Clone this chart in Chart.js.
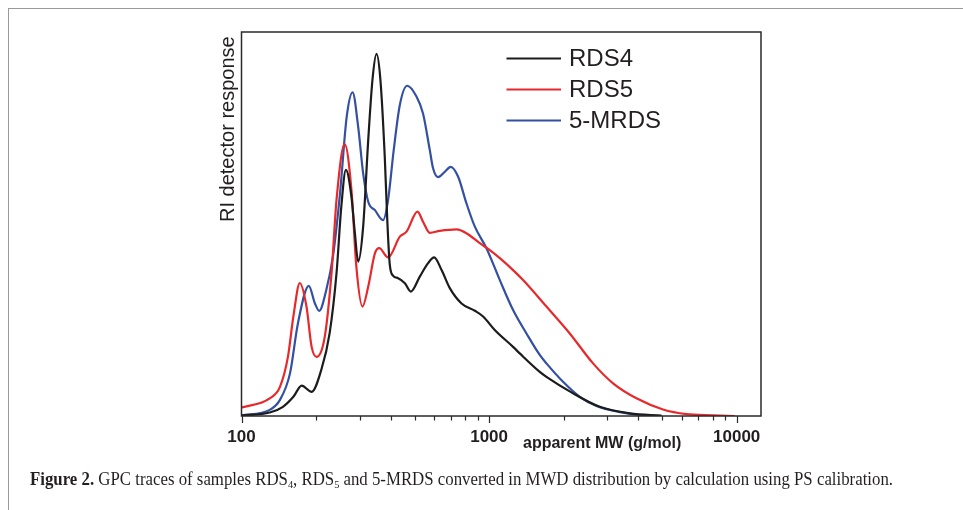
<!DOCTYPE html>
<html>
<head>
<meta charset="utf-8">
<script src="https://cdn.jsdelivr.net/npm/chart.js@4/dist/chart.umd.min.js"></script>
<style>
  html, body { margin: 0; padding: 0; background: #fff; }
  #wrap { position: relative; width: 963px; height: 510px; overflow: hidden; }
  #frame { position: absolute; left: 8px; top: 8px; width: 1000px; height: 600px;
           border-top: 1.5px solid #9a9a9a; border-left: 1.5px solid #9a9a9a; }
  canvas { position: absolute; left: 0; top: 0; }
  #caption { position: absolute; left: 30px; top: 469px; white-space: nowrap;
             font-family: "Liberation Serif", "DejaVu Serif", serif; font-size: 18px;
             color: #231f20; transform-origin: 0 0; }
  #caption b { font-weight: bold; }
  #caption sub { font-size: 11px; vertical-align: -3px; line-height: 0; }
</style>
</head>
<body>
<div id="wrap">
  <div id="frame"></div>
  <canvas id="c" width="963" height="510"></canvas>
  <div id="caption"><b>Figure 2.</b> GPC traces of samples RDS<sub>4</sub>, RDS<sub>5</sub> and 5-MRDS converted in MWD distribution by calculation using PS calibration.</div>
</div>
<script>
// ---- data (apparent MW in g/mol, RI response in relative units) ----
const seriesNames = ['RDS4', 'RDS5', '5-MRDS'];
const majorTicks = [100, 1000, 10000];

const mwRDS4 = [100,130,147,162,175,192,210,227,242,253,264,278,287,296,310,325,338,351,364,379,
                388,397,410,429,457,483,525,567,600,643,694,774,876,946,1054,1250,1330,1602,1705,2185,
                2800,3700,4970];
const rds4   = [0.1,0.9,2.4,5.0,7.9,6.3,12.0,21.6,37.2,54.5,64.1,57.1,47.7,40.2,49.3,71.9,87.5,94.3,87.5,67.5,
                51.0,39.5,36.5,35.9,34.6,32.4,36.3,39.8,41.3,38.0,33.3,29.3,27.4,25.9,22.4,18.0,16.3,11.5,10.2,5.9,
                2.4,0.7,0.1];

const mwRDS5 = [100,130,143,154,162,172,183,192,201,217,231,242,261,278,291,308,325,346,360,391,
                436,464,514,541,576,632,739,810,917,1007,1105,1250,1372,1705,2118,2630,3168,3938,5043,
                6271,8029,9824];
const rds5   = [2.2,4.6,7.6,15.4,25.9,34.6,28.5,18.0,15.4,20.7,37.2,56.3,70.8,58.9,38.9,28.5,33.7,42.4,43.7,41.3,
                46.7,48.0,53.2,50.6,47.7,48.2,48.6,47.6,45.0,43.2,41.1,38.0,35.4,28.5,21.5,13.7,8.5,4.6,1.7,
                0.5,0.2,0.0];

const mwMRDS = [100,130,143,157,169,187,198,206,220,234,250,266,281,296,310,325,346,373,391,412,
                436,467,509,541,576,594,622,662,700,750,810,876,976,1105,1250,1416,1602,1705,1990,2324,
                2716,3373,4061,4970];
const mrds5  = [0.2,1.6,4.2,11.1,24.1,33.9,29.3,27.4,32.8,41.5,58.0,77.9,84.3,75.3,63.2,55.8,53.6,51.0,56.3,69.3,
                81.0,86.0,83.2,78.8,69.3,64.5,62.2,63.6,64.9,62.3,55.4,49.3,43.7,35.4,27.6,21.5,15.9,13.7,8.9,5.0,
                2.6,1.0,0.26,0];

const colors = ['#1c1c1c', '#e8292c', '#3450a2'];
const toXY = (xs, ys) => xs.map((x, i) => ({ x: x, y: ys[i] }));

const TEXT = '#231f20';

const decor = {
  id: 'decor',
  afterDraw(chart) {
    const ctx = chart.ctx, a = chart.chartArea, xs = chart.scales.x;
    ctx.save();
    // frame
    ctx.strokeStyle = '#2a2a2a';
    ctx.lineWidth = 1.5;
    ctx.strokeRect(a.left, a.top, a.right - a.left, a.bottom - a.top);
    // ticks (major long, minor short)
    ctx.lineWidth = 1.2;
    ctx.beginPath();
    for (let d = 100; d <= 10000; d *= 10) {
      for (let m = 1; m <= 9; m++) {
        const v = d * m;
        if (v > xs.max) break;
        const px = Math.round(xs.getPixelForValue(v)) + 0.5;
        const len = (m === 1) ? 7 : 4.5;
        ctx.moveTo(px, a.bottom);
        ctx.lineTo(px, a.bottom + len);
      }
    }
    ctx.stroke();
    // x axis title
    ctx.fillStyle = TEXT;
    ctx.font = 'bold 16px "Liberation Sans", Arial, sans-serif';
    ctx.textAlign = 'left';
    ctx.textBaseline = 'alphabetic';
    ctx.fillText('apparent MW (g/mol)', 523, 448);
    // y axis title
    ctx.save();
    ctx.translate(228, 222);
    ctx.rotate(-Math.PI / 2);
    ctx.font = '20px "Liberation Sans", Arial, sans-serif';
    ctx.textBaseline = 'middle';
    ctx.fillText('RI detector response', 0, 0);
    ctx.restore();
    // legend
    const rows = [58.5, 89.5, 120.5];
    ctx.font = '24px "Liberation Sans", Arial, sans-serif';
    ctx.textBaseline = 'middle';
    seriesNames.forEach((n, i) => {
      ctx.strokeStyle = colors[i];
      ctx.lineWidth = 2;
      ctx.beginPath();
      ctx.moveTo(506.5, rows[i]);
      ctx.lineTo(561, rows[i]);
      ctx.stroke();
      ctx.fillStyle = TEXT;
      ctx.fillText(n, 569, rows[i] + 1);
    });
    ctx.restore();
  }
};

new Chart(document.getElementById('c'), {
  type: 'scatter',
  data: {
    datasets: [
      { label: seriesNames[0], data: toXY(mwRDS4, rds4), borderColor: colors[0] },
      { label: seriesNames[1], data: toXY(mwRDS5, rds5), borderColor: colors[1] },
      { label: seriesNames[2], data: toXY(mwMRDS, mrds5), borderColor: colors[2] }
    ].map(d => Object.assign(d, {
      showLine: true, pointRadius: 0, borderWidth: 2.2,
      cubicInterpolationMode: 'monotone', fill: false
    }))
  },
  options: {
    responsive: false,
    animation: false,
    events: [],
    layout: { padding: { left: 241.5, right: 202, top: 32, bottom: 0 } },
    plugins: { legend: { display: false }, tooltip: { enabled: false } },
    scales: {
      x: {
        type: 'logarithmic',
        min: 100,
        max: 12540,
        grid: { display: false, drawTicks: false },
        border: { display: false },
        afterBuildTicks(scale) { scale.ticks = majorTicks.map(v => ({ value: v })); },
        afterFit(scale) { scale.height = 94; },
        ticks: {
          autoSkip: false,
          maxRotation: 0,
          padding: 11,
          color: TEXT,
          font: { family: '"Liberation Sans", Arial, sans-serif', size: 17, weight: 'bold' },
          callback: (v) => String(v)
        }
      },
      y: { display: false, min: 0, max: 100 }
    }
  },
  plugins: [decor]
});

// fit caption width to the reference line length
const cap = document.getElementById('caption');
const w = cap.getBoundingClientRect().width;
cap.style.transform = 'scaleX(' + (863 / w) + ')';
</script>
</body>
</html>
